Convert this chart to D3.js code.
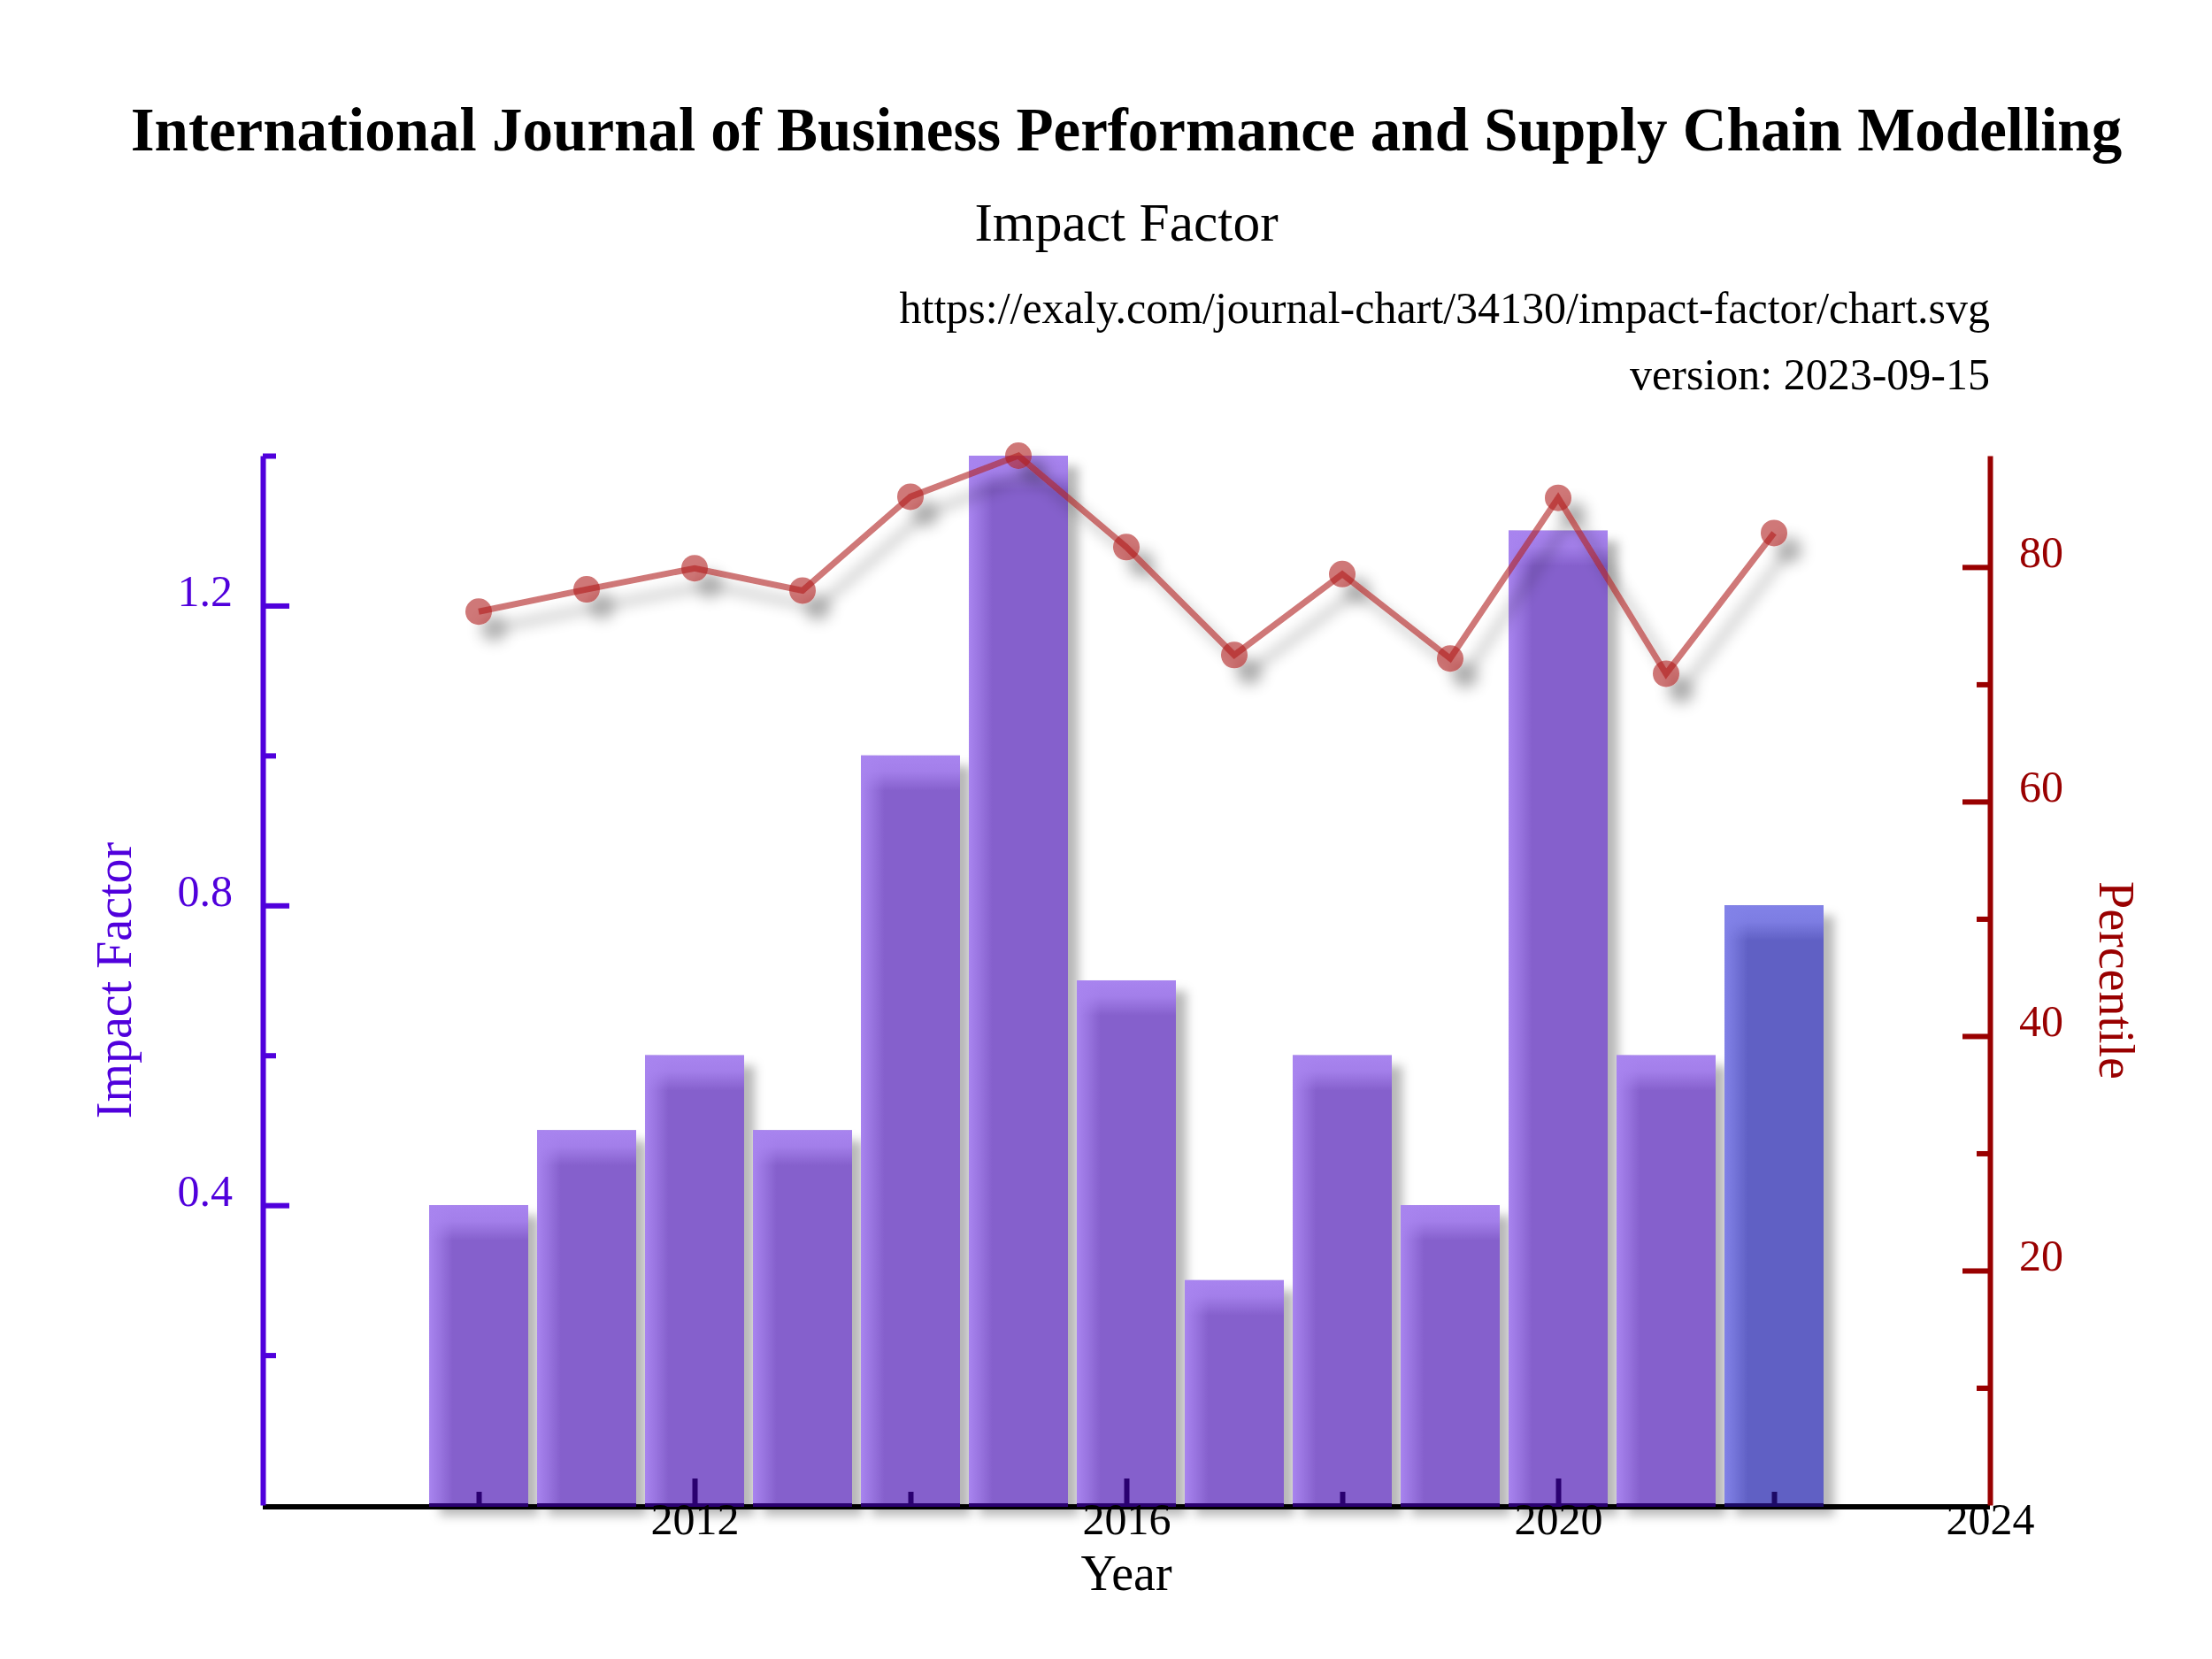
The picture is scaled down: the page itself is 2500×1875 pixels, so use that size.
<!DOCTYPE html>
<html>
<head>
<meta charset="utf-8">
<script src="https://cdn.jsdelivr.net/npm/d3@7"></script>
<style>
  html, body { margin: 0; padding: 0; background: #ffffff; }
  svg { display: block; font-family: "Liberation Serif", "Times New Roman", serif; }
</style>
</head>
<body>
<svg id="chart" width="2500" height="1875"></svg>
<script>
// ---- data ----
const years = [2010, 2011, 2012, 2013, 2014, 2015, 2016, 2017, 2018, 2019, 2020, 2021, 2022];
const impactFactor = [0.4, 0.5, 0.6, 0.5, 1.0, 1.4, 0.7, 0.3, 0.6, 0.4, 1.3, 0.6, 0.8];
const percentile = [76.2, 78.1, 79.9, 78.0, 86.0, 89.5, 81.7, 72.5, 79.4, 72.2, 85.9, 70.9, 82.9];
const xMajorTicks = [2012, 2016, 2020, 2024];
const xMinorTicks = [2010, 2014, 2018, 2022];
const yLeftMajorTicks = [0.4, 0.8, 1.2];
const yLeftMinorTicks = [0.2, 0.6, 1.0, 1.4];
const yRightMajorTicks = [20, 40, 60, 80];
const yRightMinorTicks = [10, 30, 50, 70];
const titleText = "International Journal of Business Performance and Supply Chain Modelling";
const subtitleText = "Impact Factor";
const urlText = "https://exaly.com/journal-chart/34130/impact-factor/chart.svg";
const versionText = "version: 2023-09-15";

// ---- layout ----
const plotLeft = 297, plotRight = 2249, plotTop = 515, plotBottom = 1701;
const leftColor = "#5000dc", rightColor = "#990000";

const svg = d3.select("#chart");
svg.append("rect").attr("width", 2500).attr("height", 1875).attr("fill", "#ffffff");

const defs = svg.append("defs");
const barShadow = defs.append("filter").attr("id", "barShadow")
  .attr("x", "-20%").attr("y", "-20%").attr("width", "150%").attr("height", "150%");
barShadow.append("feDropShadow").attr("dx", 12).attr("dy", 12).attr("stdDeviation", 6)
  .attr("flood-color", "#000").attr("flood-opacity", 0.28);
const lineShadow = defs.append("filter").attr("id", "lineShadow")
  .attr("x", "-10%").attr("y", "-20%").attr("width", "130%").attr("height", "150%");
lineShadow.append("feDropShadow").attr("dx", 17).attr("dy", 19).attr("stdDeviation", 8)
  .attr("flood-color", "#000").attr("flood-opacity", 0.45);

function makeGrads(id, light) {
  const h = defs.append("linearGradient").attr("id", id + "H").attr("x1", 0).attr("x2", 1).attr("y1", 0).attr("y2", 0);
  h.append("stop").attr("offset", 0).attr("stop-color", light).attr("stop-opacity", 1);
  h.append("stop").attr("offset", 0.1).attr("stop-color", light).attr("stop-opacity", 0.6);
  h.append("stop").attr("offset", 0.24).attr("stop-color", light).attr("stop-opacity", 0);
  const v = defs.append("linearGradient").attr("id", id + "V").attr("x1", 0).attr("x2", 0).attr("y1", 0).attr("y2", 1);
  v.append("stop").attr("offset", 0).attr("stop-color", light).attr("stop-opacity", 1);
  v.append("stop").attr("offset", 0.45).attr("stop-color", light).attr("stop-opacity", 0.85);
  v.append("stop").attr("offset", 1).attr("stop-color", light).attr("stop-opacity", 0);
}
makeGrads("purple", "#a884ef");
makeGrads("blue", "#8282e8");

// ---- scales ----
const x = d3.scaleLinear().domain([2008, 2024]).range([plotLeft, plotRight]);
const yL = d3.scaleLinear().domain([0, 1.4]).range([plotBottom, plotTop]);
const yR = d3.scaleLinear().domain([0, d3.max(percentile)]).range([plotBottom, plotTop]);

const data = years.map((yr, i) => ({ year: yr, ifv: impactFactor[i], pct: percentile[i], last: i === years.length - 1 }));
const barW = (x(2009) - x(2008)) - 10;

// ---- titles ----
svg.append("text").attr("x", (plotLeft + plotRight) / 2).attr("y", 170).attr("text-anchor", "middle")
  .attr("font-size", 69).attr("font-weight", "bold").attr("fill", "#000").text(titleText);
svg.append("text").attr("x", (plotLeft + plotRight) / 2).attr("y", 272).attr("text-anchor", "middle")
  .attr("font-size", 61.5).attr("fill", "#000").text(subtitleText);
svg.append("text").attr("x", plotRight).attr("y", 365).attr("text-anchor", "end")
  .attr("font-size", 50).attr("fill", "#000").text(urlText);
svg.append("text").attr("x", plotRight).attr("y", 440).attr("text-anchor", "end")
  .attr("font-size", 50).attr("fill", "#000").text(versionText);

// ---- x axis line (under bars) ----
svg.append("line").attr("x1", plotLeft).attr("x2", plotRight).attr("y1", plotBottom + 2).attr("y2", plotBottom + 2)
  .attr("stroke", "#000").attr("stroke-width", 6);

// ---- bars ----
const barG = svg.append("g").attr("filter", "url(#barShadow)");
const bars = barG.selectAll("g.bar").data(data).join("g").attr("class", "bar");
bars.append("rect")
  .attr("x", d => x(d.year) - barW / 2).attr("width", barW)
  .attr("y", d => yL(d.ifv)).attr("height", d => yL(0) - yL(d.ifv))
  .attr("fill", d => d.last ? "#6060c4" : "#8560cc");
bars.append("rect")
  .attr("x", d => x(d.year) - barW / 2).attr("width", barW)
  .attr("y", d => yL(d.ifv)).attr("height", d => yL(0) - yL(d.ifv))
  .attr("fill", d => d.last ? "url(#blueH)" : "url(#purpleH)");
bars.append("rect")
  .attr("x", d => x(d.year) - barW / 2).attr("width", barW)
  .attr("y", d => yL(d.ifv)).attr("height", 40)
  .attr("fill", d => d.last ? "url(#blueV)" : "url(#purpleV)");

// dark band where bars meet the axis
svg.append("g").selectAll("rect").data(data).join("rect")
  .attr("x", d => x(d.year) - barW / 2).attr("width", barW)
  .attr("y", yL(0) - 2).attr("height", 4)
  .attr("fill", d => d.last ? "#1c0a66" : "#2a0070");

// ---- x axis ticks + labels ----
const xMajor = d3.axisBottom(x).tickValues(xMajorTicks).tickFormat(d3.format("d"))
  .tickSizeInner(-30).tickSizeOuter(0);
const xMajG = svg.append("g").attr("transform", `translate(0,${plotBottom})`).call(xMajor);
xMajG.select(".domain").remove();
xMajG.selectAll(".tick line").attr("stroke", d => d === 2024 ? "none" : "#2a0070").attr("stroke-width", 6);
xMajG.selectAll(".tick text").attr("y", 33).attr("dy", 0).attr("font-size", 50)
  .attr("font-family", "Liberation Serif").attr("fill", "#000");

const xMinor = d3.axisBottom(x).tickValues(xMinorTicks).tickFormat("").tickSizeInner(-15).tickSizeOuter(0);
const xMinG = svg.append("g").attr("transform", `translate(0,${plotBottom})`).call(xMinor);
xMinG.select(".domain").remove();
xMinG.selectAll(".tick line").attr("stroke", d => d === 2022 ? "#1c0a66" : "#2a0070").attr("stroke-width", 6);

svg.append("text").attr("x", (plotLeft + plotRight) / 2).attr("y", 1797).attr("text-anchor", "middle")
  .attr("font-size", 56).attr("fill", "#000").text("Year");

// ---- percentile line ----
const lineG = svg.append("g").attr("filter", "url(#lineShadow)");
lineG.append("path").datum(data)
  .attr("d", d3.line().x(d => x(d.year)).y(d => yR(d.pct)))
  .attr("fill", "none").attr("stroke", "#b22222").attr("stroke-opacity", 0.62)
  .attr("stroke-width", 7).attr("stroke-linejoin", "miter");
lineG.selectAll("circle").data(data).join("circle")
  .attr("cx", d => x(d.year)).attr("cy", d => yR(d.pct)).attr("r", 15)
  .attr("fill", "#b22222").attr("fill-opacity", 0.62);

// ---- left axis ----
const yLMajor = d3.axisLeft(yL).tickValues(yLeftMajorTicks).tickFormat(d3.format(".1f"))
  .tickSizeInner(-30).tickSizeOuter(0);
const yLG = svg.append("g").attr("transform", `translate(${plotLeft},0)`).call(yLMajor);
yLG.select(".domain").attr("stroke", leftColor).attr("stroke-width", 6);
yLG.selectAll(".tick line").attr("stroke", leftColor).attr("stroke-width", 6);
yLG.selectAll(".tick text").attr("x", -34).attr("dy", 0).attr("font-size", 50)
  .attr("font-family", "Liberation Serif").attr("fill", leftColor);
const yLMinor = d3.axisLeft(yL).tickValues(yLeftMinorTicks).tickFormat("").tickSizeInner(-15).tickSizeOuter(0);
const yLmG = svg.append("g").attr("transform", `translate(${plotLeft},0)`).call(yLMinor);
yLmG.select(".domain").remove();
yLmG.selectAll(".tick line").attr("stroke", leftColor).attr("stroke-width", 6);

svg.append("text").attr("transform", `translate(148,${(plotTop + plotBottom) / 2}) rotate(-90)`)
  .attr("text-anchor", "middle").attr("font-size", 56).attr("fill", leftColor).text("Impact Factor");

// ---- right axis ----
const yRMajor = d3.axisRight(yR).tickValues(yRightMajorTicks).tickFormat(d3.format("d"))
  .tickSizeInner(-31).tickSizeOuter(0);
const yRG = svg.append("g").attr("transform", `translate(${plotRight},0)`).call(yRMajor);
yRG.select(".domain").attr("stroke", rightColor).attr("stroke-width", 6);
yRG.selectAll(".tick line").attr("stroke", rightColor).attr("stroke-width", 6);
yRG.selectAll(".tick text").attr("x", 33).attr("dy", 0).attr("font-size", 50)
  .attr("font-family", "Liberation Serif").attr("fill", rightColor);
const yRMinor = d3.axisRight(yR).tickValues(yRightMinorTicks).tickFormat("").tickSizeInner(-15).tickSizeOuter(0);
const yRmG = svg.append("g").attr("transform", `translate(${plotRight},0)`).call(yRMinor);
yRmG.select(".domain").remove();
yRmG.selectAll(".tick line").attr("stroke", rightColor).attr("stroke-width", 6);

svg.append("text").attr("transform", `translate(2373,${(plotTop + plotBottom) / 2}) rotate(90)`)
  .attr("text-anchor", "middle").attr("font-size", 56).attr("fill", rightColor).text("Percentile");
</script>
</body>
</html>
